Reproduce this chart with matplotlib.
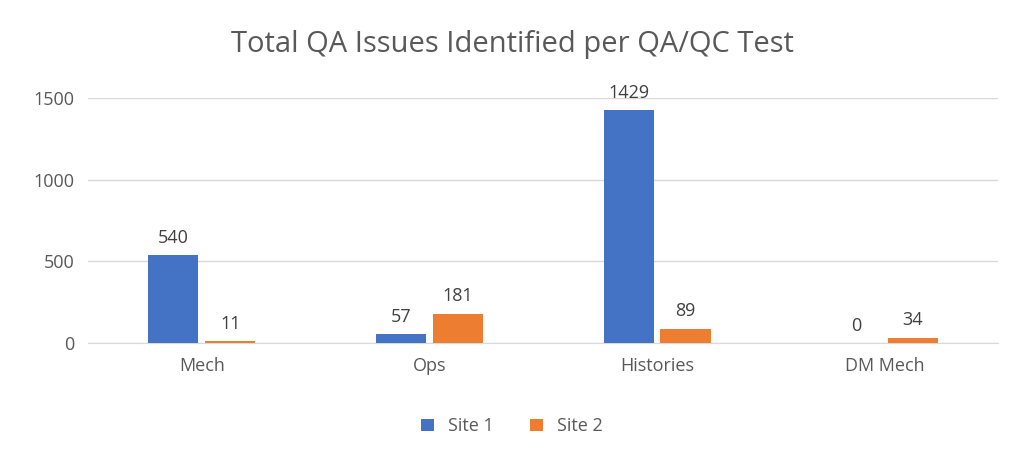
import numpy as np
import matplotlib.pyplot as plt

plt.rcParams['font.family'] = ['Open Sans', 'DejaVu Sans']

categories = ["Mech", "Ops", "Histories", "DM Mech"]
site1 = [540, 57, 1429, 0]
site2 = [11, 181, 89, 34]

fig = plt.figure(figsize=(10.24, 4.63), dpi=100)
ax = fig.add_axes([0.086, 0.259, 0.889, 0.529])

x = np.arange(len(categories))
w = 0.22
b1 = ax.bar(x - 0.125, site1, w, color="#4472C4", label="Site 1", zorder=3)
b2 = ax.bar(x + 0.125, site2, w, color="#ED7D31", label="Site 2", zorder=3)
for bars in (b1, b2):
    for r in bars:
        ax.text(r.get_x() + r.get_width() / 2, r.get_height() + 50, str(int(r.get_height())),
                ha="center", va="bottom", fontsize=13, color="#404040")

ax.set_xlim(-0.5, 3.5)
ax.set_ylim(0, 1500)
ax.set_yticks([0, 500, 1000, 1500])
ax.set_xticks(x)
ax.set_xticklabels(categories)
ax.grid(axis="y", color="#D9D9D9", linewidth=1, zorder=0)
for s in ["top", "right", "left"]:
    ax.spines[s].set_visible(False)
ax.spines["bottom"].set_color("#D9D9D9")
ax.tick_params(length=0, labelsize=13, colors="#595959", pad=10)

fig.suptitle("Total QA Issues Identified per QA/QC Test", fontsize=21, color="#595959", y=0.935)
fig.legend(loc="lower center", ncol=2, frameon=False, fontsize=13, bbox_to_anchor=(0.5, 0.025),
           handlelength=0.7, handleheight=0.7, labelcolor="#595959")

fig.savefig("out.png", dpi=100)
